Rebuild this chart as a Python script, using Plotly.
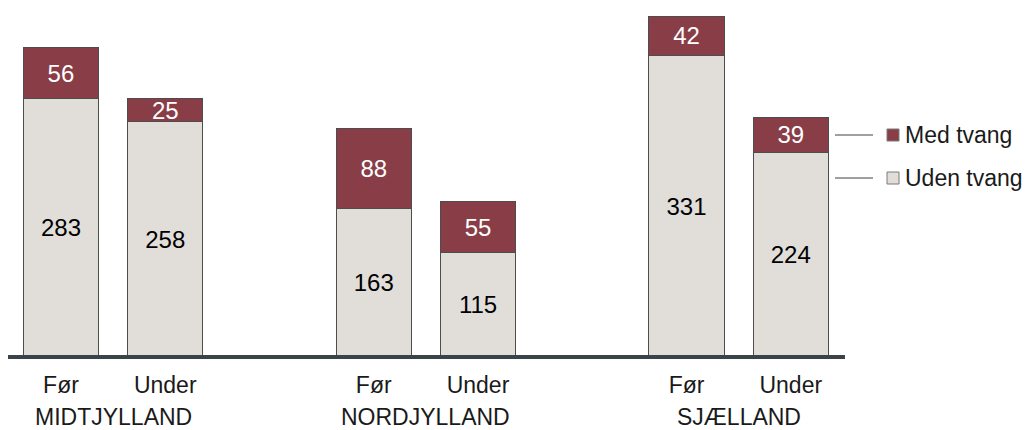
import plotly.graph_objects as go

# Data
regions = ["MIDTJYLLAND", "NORDJYLLAND", "SJÆLLAND"]
periods = ["Før", "Under"]
uden_tvang = [283, 258, 163, 115, 331, 224]
med_tvang = [56, 25, 88, 55, 42, 39]
series_names = ["Med tvang", "Uden tvang"]

# Bar positions: two bars per region, wider gap between regions
x_pos = [0, 1, 3, 4, 6, 7]
tick_text = periods * len(regions)
group_centers = [0.5, 3.5, 6.5]

COL_MED = "#893D47"
COL_UDEN = "#E1DEDA"
EDGE = "#4D4D4D"
FONT = "Liberation Sans, Arial, sans-serif"
FS = 24

W, H = 1029, 430
ML, MR, MT, MB = 8, W - 845, 10, H - 357

fig = go.Figure()
fig.add_trace(go.Bar(
    x=x_pos, y=uden_tvang, name=series_names[1], width=0.72,
    marker=dict(color=COL_UDEN, line=dict(color=EDGE, width=1)),
    text=[str(v) for v in uden_tvang], textposition="inside",
    insidetextanchor="middle", constraintext="none", textangle=0,
    textfont=dict(family=FONT, size=FS, color="#000000"),
    showlegend=False,
))
fig.add_trace(go.Bar(
    x=x_pos, y=med_tvang, name=series_names[0], width=0.72,
    marker=dict(color=COL_MED, line=dict(color=EDGE, width=1)),
    text=[str(v) for v in med_tvang], textposition="inside",
    insidetextanchor="middle", constraintext="none", textangle=0,
    textfont=dict(family=FONT, size=FS, color="#FFFFFF"),
    showlegend=False,
))

pw = W - ML - MR
ph = H - MT - MB


def px_x(p):
    return (p - ML) / pw


def px_y(q):
    return (H - MB - q) / ph


shapes = [
    # baseline
    dict(type="line", xref="paper", yref="paper", x0=0, x1=1, y0=0, y1=0,
         line=dict(color="#3A4448", width=4)),
]
annotations = []

# region labels below the period ticks
for c, r in zip(group_centers, regions):
    annotations.append(dict(x=c, y=px_y(431), xref="x", yref="paper", text=r,
                            showarrow=False, yanchor="bottom", borderpad=0,
                            font=dict(family=FONT, size=23, color="#1A1A1A")))

# legend with leader lines
legend_rows = [(series_names[0], COL_MED, 135), (series_names[1], COL_UDEN, 178)]
for name, col, yc in legend_rows:
    shapes.append(dict(type="line", xref="paper", yref="paper",
                       x0=px_x(835), x1=px_x(873), y0=px_y(yc), y1=px_y(yc),
                       line=dict(color="#404040", width=1)))
    shapes.append(dict(type="rect", xref="paper", yref="paper",
                       x0=px_x(887), x1=px_x(899), y0=px_y(yc + 6), y1=px_y(yc - 6),
                       fillcolor=col, line=dict(color="#7A7A7A", width=1)))
    annotations.append(dict(x=px_x(903), y=px_y(yc), xref="paper", yref="paper",
                            text=name, showarrow=False, xanchor="left", yanchor="middle",
                            font=dict(family=FONT, size=23, color="#1A1A1A")))

fig.update_layout(
    width=W, height=H,
    margin=dict(l=ML, r=MR, t=MT, b=MB),
    barmode="stack",
    plot_bgcolor="white", paper_bgcolor="white",
    showlegend=False,
    shapes=shapes, annotations=annotations,
    xaxis=dict(range=[-0.508, 7.52], tickvals=x_pos, ticktext=tick_text,
               showgrid=False, zeroline=False, showline=False, ticks="",
               ticklabelstandoff=12,
               tickfont=dict(family=FONT, size=23, color="#1A1A1A"),
               fixedrange=True),
    yaxis=dict(range=[0, ph / 0.912], visible=False, showgrid=False,
               zeroline=False, fixedrange=True),
)

fig.write_html("out.html", config={"displayModeBar": False})
